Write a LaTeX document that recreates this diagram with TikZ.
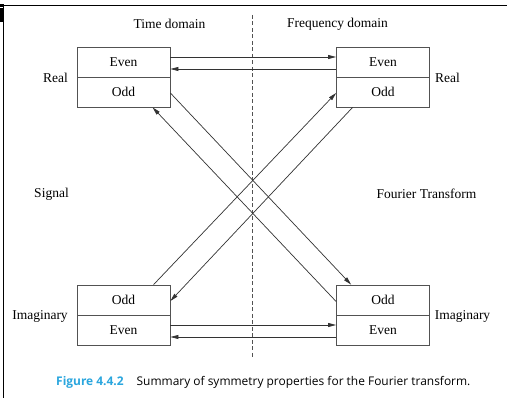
\documentclass[tikz,border=0pt]{standalone}
\usepackage{fontspec}
\setmainfont{Liberation Serif}
\newfontfamily\capfont{Open Sans}
\usetikzlibrary{arrows.meta,calc}
\definecolor{capblue}{HTML}{2AA6DE}
\definecolor{ln}{HTML}{333333}
\tikzset{
  half/.style={draw=ln!85, line width=0.8pt, minimum width=93pt, minimum height=30pt, inner sep=0pt, font=\fontsize{13.5}{15}\selectfont},
  lbl/.style={inner sep=0pt, font=\fontsize{13.5}{15}\selectfont},
  conn/.style={draw=ln, line width=0.7pt, -{Triangle[length=8pt,width=4pt]}},
  plain/.style={draw=ln, line width=0.7pt}
}
\begin{document}
\begin{tikzpicture}[x=1pt,y=-1pt]
\useasboundingbox (0,0) rectangle (507,398);
\fill[white] (0,0) rectangle (507,398);
% frame
\draw[line width=1.2pt] (3.7,5.5) -- (507,5.5);
\draw[line width=1.2pt] (3.7,5.5) -- (3.7,398);
\fill (0,8.5) rectangle (3.5,22);
\fill (0,4) rectangle (3.5,7);
% headings
\node[lbl] (td) at (169.5,24) {Time domain};
\node[lbl] (fd) at (337.5,24) {Frequency domain};
\coordinate (dtop) at (252,15);
\coordinate (dbot) at (252,358);
\draw[ln!85, line width=0.9pt, dash pattern=on 4pt off 2.5pt] (dtop) -- (dbot);
% boxes
\node[half] (tle) at (123.5,62) {Even};
\node[half] (tlo) at (123.5,92) {Odd};
\node[half] (tre) at (383,62) {Even};
\node[half] (tro) at (383,92) {Odd};
\node[half] (blo) at (123.5,300) {Odd};
\node[half] (ble) at (123.5,330) {Even};
\node[half] (bro) at (383,300) {Odd};
\node[half] (bre) at (383,330) {Even};
% side labels
\node[lbl] (rl) at (55.5,78) {Real};
\node[lbl] (rr) at (447.5,78) {Real};
\node[lbl] (il) at (40,316) {Imaginary};
\node[lbl] (ir) at (462.5,316) {Imaginary};
\node[lbl] (sig) at (51.5,194) {Signal};
\node[lbl] (ft) at (426.5,194) {Fourier Transform};
% horizontal connectors
\draw[conn] ([yshift=5pt]tle.east) -- ([yshift=5pt]tre.west);
\draw[conn] ([yshift=-7pt]tre.west) -- ([yshift=-7pt]tle.east);
\draw[conn] ([yshift=5pt]ble.east) -- ([yshift=5pt]bre.west);
\draw[conn] ([yshift=-7pt]bre.west) -- ([yshift=-7pt]ble.east);
% diagonals
\draw[conn] ([yshift=-1pt]tlo.east) -- ([xshift=15pt]bro.north west);
\draw[conn] ([yshift=-1.5pt]bro.west) -- ([xshift=76pt]tlo.south west);
\draw[conn] ([xshift=77pt]blo.north west) -- ([yshift=-1pt]tro.west);
\draw[conn] ([xshift=16.5pt]tro.south west) -- ([yshift=-1pt]blo.east);
% caption
\node[inner sep=0pt, anchor=west, font=\capfont\fontsize{11.95}{14}\selectfont] (cap) at (56,382)
  {\textcolor{capblue}{\textbf{Figure 4.4.2}}\hspace{13pt}Summary of symmetry properties for the Fourier transform.};
\end{tikzpicture}
\end{document}
